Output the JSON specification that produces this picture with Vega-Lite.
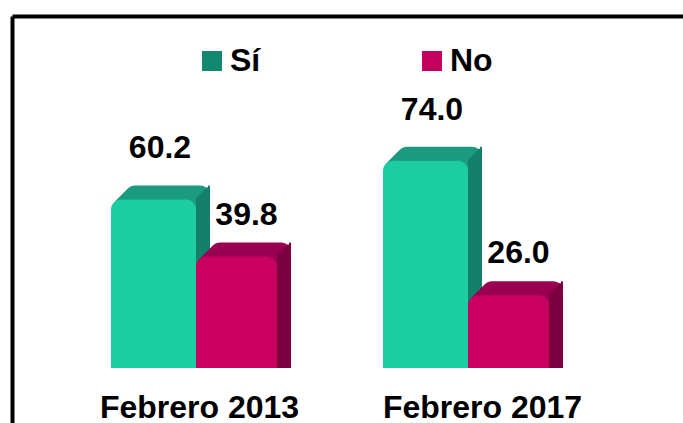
{"$schema":"https://vega.github.io/schema/vega-lite/v6.json","width":671,"height":407,"autosize":"none","padding":{"left":12,"top":16,"right":0,"bottom":0},"background":"white","config":{"view":{"stroke":null}},
"data":{"values":[{"g":"Febrero 2013","s":"Sí","v":60.2},{"g":"Febrero 2013","s":"No","v":39.8},{"g":"Febrero 2017","s":"Sí","v":74.0},{"g":"Febrero 2017","s":"No","v":26.0}]},
"encoding":{"x":{"field":"g","type":"nominal","scale":{"paddingInner":0.375,"paddingOuter":0.421,"align":0.4323},"axis":{"orient":"bottom","title":null,"ticks":false,"domain":false,"grid":false,"labelAngle":0,"labelFont":"Liberation Sans","labelFontWeight":"bold","labelFontSize":32,"labelLimit":400,"labelColor":"black","labelBaseline":"middle","labelPadding":0,"offset":-16,"labelOffset":{"condition":{"test":"datum.value=='Febrero 2017'","value":14.5},"value":3.5}}},"y":{"field":"v","type":"quantitative","stack":null,"scale":{"domain":[-19.64,125.71],"nice":false,"zero":false},"axis":{"title":null,"labels":false,"ticks":false,"grid":true,"gridColor":"black","gridWidth":4,"values":[125.71],"domainColor":"black","domainWidth":4}}},
"layer":[
{"transform":[{"filter":"datum.s=='Sí'"}],"mark":{"type":"bar","color":"#1b9b80","width":85,"cornerRadiusTopLeft":10,"cornerRadiusTopRight":10,"xOffset":-28.5,"yOffset":-14,"y2Offset":-14}},
{"transform":[{"filter":"datum.s=='Sí'"}],"mark":{"type":"bar","color":"#1b9b80","width":85,"cornerRadiusTopLeft":10,"cornerRadiusTopRight":10,"xOffset":-30.5,"yOffset":-12,"y2Offset":-12}},
{"transform":[{"filter":"datum.s=='Sí'"}],"mark":{"type":"bar","color":"#1b9b80","width":85,"cornerRadiusTopLeft":10,"cornerRadiusTopRight":10,"xOffset":-32.5,"yOffset":-10,"y2Offset":-10}},
{"transform":[{"filter":"datum.s=='Sí'"}],"mark":{"type":"bar","color":"#1b9b80","width":85,"cornerRadiusTopLeft":10,"cornerRadiusTopRight":10,"xOffset":-34.5,"yOffset":-8,"y2Offset":-8}},
{"transform":[{"filter":"datum.s=='Sí'"}],"mark":{"type":"bar","color":"#1b9b80","width":85,"cornerRadiusTopLeft":10,"cornerRadiusTopRight":10,"xOffset":-36.5,"yOffset":-6,"y2Offset":-6}},
{"transform":[{"filter":"datum.s=='Sí'"}],"mark":{"type":"bar","color":"#1b9b80","width":85,"cornerRadiusTopLeft":10,"cornerRadiusTopRight":10,"xOffset":-38.5,"yOffset":-4,"y2Offset":-4}},
{"transform":[{"filter":"datum.s=='Sí'"}],"mark":{"type":"bar","color":"#1b9b80","width":85,"cornerRadiusTopLeft":10,"cornerRadiusTopRight":10,"xOffset":-40.5,"yOffset":-2,"y2Offset":-2}},
{"transform":[{"filter":"datum.s=='Sí'"}],"mark":{"type":"bar","color":"#15806a","width":2,"xOffset":13,"yOffset":-14,"y2Offset":-14,"cornerRadiusTopRight":2}},
{"transform":[{"filter":"datum.s=='Sí'"}],"mark":{"type":"bar","color":"#15806a","width":2,"xOffset":11,"yOffset":-12,"y2Offset":-12}},
{"transform":[{"filter":"datum.s=='Sí'"}],"mark":{"type":"bar","color":"#15806a","width":2,"xOffset":9,"yOffset":-10,"y2Offset":-10}},
{"transform":[{"filter":"datum.s=='Sí'"}],"mark":{"type":"bar","color":"#15806a","width":2,"xOffset":7,"yOffset":-8,"y2Offset":-8}},
{"transform":[{"filter":"datum.s=='Sí'"}],"mark":{"type":"bar","color":"#15806a","width":2,"xOffset":5,"yOffset":-6,"y2Offset":-6}},
{"transform":[{"filter":"datum.s=='Sí'"}],"mark":{"type":"bar","color":"#15806a","width":2,"xOffset":3,"yOffset":-4,"y2Offset":-4}},
{"transform":[{"filter":"datum.s=='Sí'"}],"mark":{"type":"bar","color":"#15806a","width":2,"xOffset":1,"yOffset":-2,"y2Offset":-2}},
{"transform":[{"filter":"datum.s=='No'"}],"mark":{"type":"bar","color":"#9a0052","width":81,"cornerRadiusTopLeft":10,"cornerRadiusTopRight":10,"xOffset":54.5,"yOffset":-14,"y2Offset":-14}},
{"transform":[{"filter":"datum.s=='No'"}],"mark":{"type":"bar","color":"#9a0052","width":81,"cornerRadiusTopLeft":10,"cornerRadiusTopRight":10,"xOffset":52.5,"yOffset":-12,"y2Offset":-12}},
{"transform":[{"filter":"datum.s=='No'"}],"mark":{"type":"bar","color":"#9a0052","width":81,"cornerRadiusTopLeft":10,"cornerRadiusTopRight":10,"xOffset":50.5,"yOffset":-10,"y2Offset":-10}},
{"transform":[{"filter":"datum.s=='No'"}],"mark":{"type":"bar","color":"#9a0052","width":81,"cornerRadiusTopLeft":10,"cornerRadiusTopRight":10,"xOffset":48.5,"yOffset":-8,"y2Offset":-8}},
{"transform":[{"filter":"datum.s=='No'"}],"mark":{"type":"bar","color":"#9a0052","width":81,"cornerRadiusTopLeft":10,"cornerRadiusTopRight":10,"xOffset":46.5,"yOffset":-6,"y2Offset":-6}},
{"transform":[{"filter":"datum.s=='No'"}],"mark":{"type":"bar","color":"#9a0052","width":81,"cornerRadiusTopLeft":10,"cornerRadiusTopRight":10,"xOffset":44.5,"yOffset":-4,"y2Offset":-4}},
{"transform":[{"filter":"datum.s=='No'"}],"mark":{"type":"bar","color":"#9a0052","width":81,"cornerRadiusTopLeft":10,"cornerRadiusTopRight":10,"xOffset":42.5,"yOffset":-2,"y2Offset":-2}},
{"transform":[{"filter":"datum.s=='No'"}],"mark":{"type":"bar","color":"#7a0040","width":2,"xOffset":94,"yOffset":-14,"y2Offset":-14,"cornerRadiusTopRight":2}},
{"transform":[{"filter":"datum.s=='No'"}],"mark":{"type":"bar","color":"#7a0040","width":2,"xOffset":92,"yOffset":-12,"y2Offset":-12}},
{"transform":[{"filter":"datum.s=='No'"}],"mark":{"type":"bar","color":"#7a0040","width":2,"xOffset":90,"yOffset":-10,"y2Offset":-10}},
{"transform":[{"filter":"datum.s=='No'"}],"mark":{"type":"bar","color":"#7a0040","width":2,"xOffset":88,"yOffset":-8,"y2Offset":-8}},
{"transform":[{"filter":"datum.s=='No'"}],"mark":{"type":"bar","color":"#7a0040","width":2,"xOffset":86,"yOffset":-6,"y2Offset":-6}},
{"transform":[{"filter":"datum.s=='No'"}],"mark":{"type":"bar","color":"#7a0040","width":2,"xOffset":84,"yOffset":-4,"y2Offset":-4}},
{"transform":[{"filter":"datum.s=='No'"}],"mark":{"type":"bar","color":"#7a0040","width":2,"xOffset":82,"yOffset":-2,"y2Offset":-2}},
{"mark":{"type":"bar","width":60,"xOffset":-42.5},"encoding":{"color":{"field":"s","type":"nominal","sort":["Sí","No"],"scale":{"domain":["Sí","No"],"range":["#12896e","#c4005e"]},"legend":{"orient":"none","legendX":184,"legendY":29,"direction":"horizontal","columns":2,"title":null,"symbolType":"square","symbolSize":400,"symbolStrokeWidth":0,"labelFont":"Liberation Sans","labelFontWeight":"bold","labelFontSize":32,"labelColor":"black","columnPadding":155,"labelOffset":2}}}},
{"transform":[{"filter":"datum.s=='Sí'"}],"mark":{"type":"bar","color":"#1dcda2","width":85,"xOffset":-42.5,"cornerRadiusTopLeft":10,"cornerRadiusTopRight":10}},
{"transform":[{"filter":"datum.s=='No'"}],"mark":{"type":"bar","color":"#c9005f","width":81,"xOffset":40.5,"cornerRadiusTopLeft":10,"cornerRadiusTopRight":10}},
{"transform":[{"filter":"datum.s=='Sí'"}],"mark":{"type":"text","font":"Liberation Sans","fontWeight":"bold","fontSize":32,"color":"black","baseline":"middle","xOffset":-36,"dy":-51},"encoding":{"text":{"field":"v","type":"quantitative","format":".1f"}}},
{"transform":[{"filter":"datum.s=='No'"}],"mark":{"type":"text","font":"Liberation Sans","fontWeight":"bold","fontSize":32,"color":"black","baseline":"middle","xOffset":50.5,"dy":-42},"encoding":{"text":{"field":"v","type":"quantitative","format":".1f"}}}
]}
